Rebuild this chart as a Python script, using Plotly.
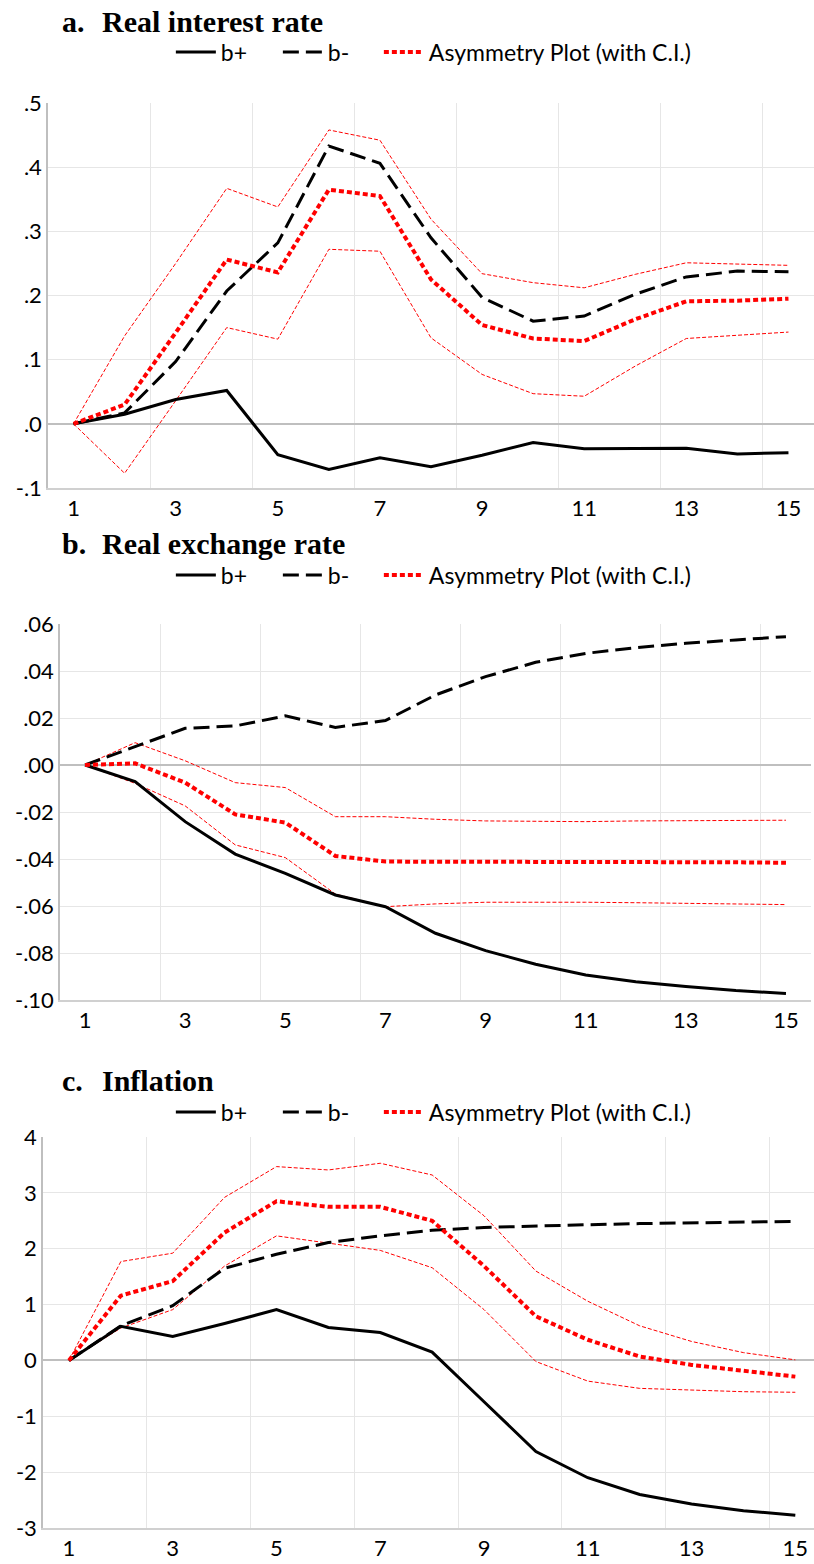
import plotly.graph_objects as go

periods = list(range(1, 16))

# Panel a: Real interest rate
a_bpos = [0, 0.015, 0.038, 0.052, -0.048, -0.071, -0.053, -0.067, -0.049, -0.029, -0.039, -0.039, -0.038, -0.047, -0.045]
a_bneg = [0, 0.017, 0.097, 0.207, 0.282, 0.433, 0.406, 0.290, 0.197, 0.160, 0.168, 0.202, 0.229, 0.238, 0.237]
a_asym = [0, 0.030, 0.142, 0.256, 0.236, 0.365, 0.355, 0.225, 0.154, 0.133, 0.129, 0.163, 0.191, 0.192, 0.195]
a_upper = [0, 0.137, 0.250, 0.367, 0.338, 0.458, 0.442, 0.319, 0.234, 0.220, 0.212, 0.233, 0.251, 0.249, 0.247]
a_lower = [0, -0.077, 0.036, 0.150, 0.132, 0.272, 0.269, 0.134, 0.077, 0.047, 0.043, 0.090, 0.133, 0.138, 0.143]

# Panel b: Real exchange rate
b_bpos = [0, -0.0071, -0.0241, -0.0379, -0.0461, -0.0553, -0.0603, -0.0716, -0.0790, -0.0848, -0.0894, -0.0922, -0.0943, -0.0960, -0.0972]
b_bneg = [0, 0.0078, 0.0156, 0.0166, 0.0209, 0.0160, 0.0189, 0.0298, 0.0376, 0.0437, 0.0475, 0.0499, 0.0518, 0.0532, 0.0546]
b_asym = [0, 0.0007, -0.0075, -0.0210, -0.0245, -0.0387, -0.0411, -0.0411, -0.0411, -0.0411, -0.0412, -0.0412, -0.0413, -0.0414, -0.0416]
b_upper = [0, 0.0095, 0.0018, -0.0075, -0.0096, -0.0220, -0.0220, -0.0231, -0.0238, -0.0241, -0.0241, -0.0238, -0.0237, -0.0235, -0.0235]
b_lower = [0, -0.0078, -0.0174, -0.0340, -0.0394, -0.0549, -0.0603, -0.0591, -0.0584, -0.0583, -0.0584, -0.0586, -0.0589, -0.0591, -0.0594]

# Panel c: Inflation
c_bpos = [0, 0.61, 0.43, 0.66, 0.91, 0.59, 0.50, 0.15, -0.74, -1.63, -2.10, -2.40, -2.57, -2.69, -2.77]
c_bneg = [0, 0.62, 0.98, 1.65, 1.90, 2.11, 2.23, 2.33, 2.38, 2.41, 2.43, 2.45, 2.46, 2.47, 2.49]
c_asym = [0, 1.16, 1.42, 2.29, 2.85, 2.75, 2.75, 2.50, 1.69, 0.79, 0.37, 0.07, -0.08, -0.18, -0.29]
c_upper = [0, 1.77, 1.92, 2.92, 3.47, 3.41, 3.53, 3.32, 2.59, 1.60, 1.06, 0.62, 0.34, 0.14, 0.01]
c_lower = [0, 0.58, 0.91, 1.69, 2.23, 2.10, 1.97, 1.66, 0.91, -0.02, -0.37, -0.50, -0.53, -0.56, -0.57]

titles = [("a.", "Real interest rate"), ("b.", "Real exchange rate"), ("c.", "Inflation")]
y_ticks = [
    ([-0.1, 0, 0.1, 0.2, 0.3, 0.4, 0.5], ["-.1", ".0", ".1", ".2", ".3", ".4", ".5"]),
    ([-0.10, -0.08, -0.06, -0.04, -0.02, 0, 0.02, 0.04, 0.06], ["-.10", "-.08", "-.06", "-.04", "-.02", ".00", ".02", ".04", ".06"]),
    ([-3, -2, -1, 0, 1, 2, 3, 4], ["-3", "-2", "-1", "0", "1", "2", "3", "4"]),
]
x_ticks = [1, 3, 5, 7, 9, 11, 13, 15]
x_tick_labels = ["1", "3", "5", "7", "9", "11", "13", "15"]

H = 1564.0
W = 814.0

panels = [
    dict(data=(a_bpos, a_bneg, a_asym, a_upper, a_lower), yr=[-0.1, 0.5],
         xpx=(48, 814), ypx=(103, 488), xr=[0.5, 15.5], title_y=22, leg_y=52),
    dict(data=(b_bpos, b_bneg, b_asym, b_upper, b_lower), yr=[-0.10, 0.06],
         xpx=(60, 811), ypx=(624, 1000), xr=[0.5, 15.5], title_y=543, leg_y=575),
    dict(data=(c_bpos, c_bneg, c_asym, c_upper, c_lower), yr=[-3, 4],
         xpx=(43, 814), ypx=(1137, 1528), xr=[0.5, 15.36], title_y=1080, leg_y=1112),
]

fig = go.Figure()
sans = "Lato, Carlito, Calibri, sans-serif"
serif = "Liberation Serif, Times New Roman, serif"
tick_font = dict(family=sans, size=22, color="#000000")

annotations = []
for i, p in enumerate(panels):
    n = "" if i == 0 else str(i + 1)
    xa = "x" + n
    ya = "y" + n
    leg = "legend" + n
    bpos, bneg, asym, up, lo = p["data"]
    fig.add_trace(go.Scatter(x=periods, y=up, mode="lines", xaxis=xa, yaxis=ya, showlegend=False,
                             line=dict(color="#FF0000", width=1, dash="4px,2px"), hoverinfo="skip"))
    fig.add_trace(go.Scatter(x=periods, y=lo, mode="lines", xaxis=xa, yaxis=ya, showlegend=False,
                             line=dict(color="#FF0000", width=1, dash="4px,2px"), hoverinfo="skip"))
    fig.add_trace(go.Scatter(x=periods, y=bpos, mode="lines", name="b+", xaxis=xa, yaxis=ya, legend=leg,
                             legendwidth=52, line=dict(color="#000000", width=3)))
    fig.add_trace(go.Scatter(x=periods, y=bneg, mode="lines", name="b-", xaxis=xa, yaxis=ya, legend=leg,
                             legendwidth=46, line=dict(color="#000000", width=3, dash="16px,7px")))
    fig.add_trace(go.Scatter(x=periods, y=asym, mode="lines", name="Asymmetry Plot (with C.I.)", xaxis=xa,
                             yaxis=ya, legend=leg, line=dict(color="#FF0000", width=4, dash="5px,3px")))

    xd = [p["xpx"][0] / W, p["xpx"][1] / W]
    yd = [1 - p["ypx"][1] / H, 1 - p["ypx"][0] / H]
    tv, tt = y_ticks[i]
    fig.update_layout(**{
        "xaxis" + n: dict(domain=xd, range=p["xr"], anchor=ya, tickmode="array", tickvals=x_ticks,
                          ticktext=x_tick_labels, showgrid=False, zeroline=False, ticks="",
                          showline=True, linecolor="#d0d0d0", linewidth=1.5, tickfont=tick_font,
                          minor=dict(tick0=0.5, dtick=2, showgrid=True, gridcolor="#e6e6e6", gridwidth=1, ticks=""),
                          fixedrange=True, automargin=False),
        "yaxis" + n: dict(domain=yd, range=p["yr"], anchor=xa, tickmode="array", tickvals=tv, ticktext=tt,
                          showgrid=True, gridcolor="#e6e6e6", gridwidth=1, zeroline=True,
                          zerolinecolor="#bfbfbf", zerolinewidth=1.5, showline=True, linecolor="#bfbfbf",
                          linewidth=1.5, ticks="", tickfont=tick_font, fixedrange=True, automargin=False),
        leg: dict(orientation="h", x=0.533, xanchor="center", y=1 - p["leg_y"] / H, yanchor="middle",
                  font=dict(family=sans, size=23, color="#000000"),
                  bgcolor="rgba(0,0,0,0)", itemwidth=40, tracegroupgap=0),
    })
    lab, ttl = titles[i]
    annotations.append(dict(text="<b>" + lab + "</b>", x=60 / W, y=1 - p["title_y"] / H, xref="paper",
                            yref="paper", xanchor="left", yanchor="middle", showarrow=False,
                            font=dict(family=serif, size=30, color="#000000")))
    annotations.append(dict(text="<b>" + ttl + "</b>", x=100 / W, y=1 - p["title_y"] / H, xref="paper",
                            yref="paper", xanchor="left", yanchor="middle", showarrow=False,
                            font=dict(family=serif, size=30, color="#000000")))

fig.update_layout(width=814, height=1564, margin=dict(l=0, r=0, t=0, b=0, autoexpand=False),
                  plot_bgcolor="#ffffff", paper_bgcolor="#ffffff", annotations=annotations, showlegend=True)

fig.write_html("out.html", config={"displayModeBar": False},
               post_script="document.body.style.margin='0px';document.body.style.overflow='hidden';")
